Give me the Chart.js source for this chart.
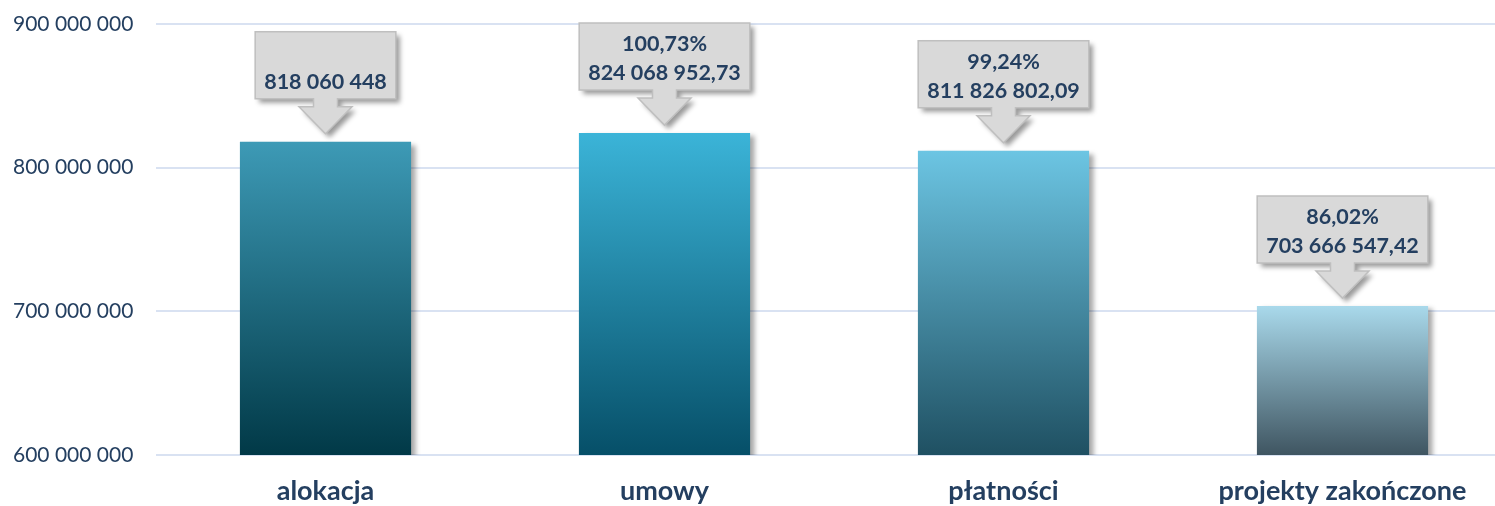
<!DOCTYPE html>
<html>
<head>
<meta charset="utf-8">
<script src="https://cdn.jsdelivr.net/npm/chart.js@4"></script>
<style>
  html, body { margin: 0; padding: 0; background: #fff; overflow: hidden; }
  #wrap { width: 1512px; height: 506px; }
</style>
</head>
<body>
<div id="wrap"><canvas id="barChart" width="1512" height="506"></canvas></div>
<script>
// Chart data
const CATEGORIES = ['alokacja', 'umowy', 'płatności', 'projekty zakończone'];
const VALUES = [818060448, 824068952.73, 811826802.09, 703666547.42];
const PERCENT_LABELS = ['', '100,73%', '99,24%', '86,02%'];
const VALUE_LABELS = ['818 060 448', '824 068 952,73', '811 826 802,09', '703 666 547,42'];

// Gradient colours per bar (top, bottom)
const BAR_TOP = ['#3d9ab6', '#3bb4d8', '#6cc5e3', '#a9d9eb'];
const BAR_BOTTOM = ['#013947', '#064f68', '#1f5062', '#3f5561'];

const TEXT_COLOR = '#243f60';
const FONT = 'Lato, "Open Sans", sans-serif';

function spaced(v) {
    return String(v).replace(/\B(?=(\d{3})+(?!\d))/g, ' ');
}

// Soft shadow behind bars
const barShadow = {
    id: 'barShadow',
    beforeDatasetDraw(chart) {
        const ctx = chart.ctx;
        ctx.save();
        ctx.shadowColor = 'rgba(0,0,0,0.35)';
        ctx.shadowBlur = 5;
        ctx.shadowOffsetX = 5;
        ctx.shadowOffsetY = 3;
    },
    afterDatasetDraw(chart) {
        chart.ctx.restore();
    }
};

// Grey arrow callouts above each bar
const callouts = {
    id: 'callouts',
    afterDatasetsDraw(chart) {
        const ctx = chart.ctx;
        const meta = chart.getDatasetMeta(0);
        ctx.save();
        ctx.font = 'bold 21.5px ' + FONT;
        meta.data.forEach((bar, i) => {
            const cx = bar.x;
            const top = bar.y;
            const textW = Math.max(ctx.measureText(PERCENT_LABELS[i]).width,
                                   ctx.measureText(VALUE_LABELS[i]).width);
            const w = textW + 18;
            const L = cx - w / 2, R = cx + w / 2;
            const T = top - 110, B = top - 43;

            ctx.beginPath();
            ctx.moveTo(L, T);
            ctx.lineTo(R, T);
            ctx.lineTo(R, B);
            ctx.lineTo(cx + 12, B);
            ctx.lineTo(cx + 12, B + 8);
            ctx.lineTo(cx + 26.5, B + 8);
            ctx.lineTo(cx, B + 35);
            ctx.lineTo(cx - 26.5, B + 8);
            ctx.lineTo(cx - 12, B + 8);
            ctx.lineTo(cx - 12, B);
            ctx.lineTo(L, B);
            ctx.closePath();

            ctx.save();
            ctx.shadowColor = 'rgba(0,0,0,0.4)';
            ctx.shadowBlur = 5;
            ctx.shadowOffsetX = 4;
            ctx.shadowOffsetY = 4;
            ctx.fillStyle = '#d9d9d9';
            ctx.fill();
            ctx.restore();
            ctx.lineWidth = 1.5;
            ctx.strokeStyle = '#bfbfbf';
            ctx.stroke();

            ctx.fillStyle = TEXT_COLOR;
            ctx.textAlign = 'center';
            ctx.textBaseline = 'middle';
            ctx.fillText(PERCENT_LABELS[i], cx, T + 21);
            ctx.fillText(VALUE_LABELS[i], cx, T + 50);
        });
        ctx.restore();
    }
};

new Chart(document.getElementById('barChart'), {
    type: 'bar',
    data: {
        labels: CATEGORIES,
        datasets: [{
            data: VALUES,
            backgroundColor: (c) => {
                const chart = c.chart;
                if (!chart.chartArea) return BAR_TOP[c.dataIndex];
                const y = chart.scales.y;
                const g = chart.ctx.createLinearGradient(0, y.getPixelForValue(VALUES[c.dataIndex]), 0, y.getPixelForValue(y.min));
                g.addColorStop(0, BAR_TOP[c.dataIndex]);
                g.addColorStop(1, BAR_BOTTOM[c.dataIndex]);
                return g;
            },
            borderWidth: 0,
            categoryPercentage: 1,
            barPercentage: 0.505
        }]
    },
    options: {
        responsive: false,
        animation: false,
        layout: { padding: { top: 24, right: 0, bottom: 0, left: 13 } },
        plugins: {
            legend: { display: false },
            tooltip: { enabled: false }
        },
        scales: {
            x: {
                grid: { display: false, drawTicks: false },
                border: { display: false },
                ticks: {
                    color: TEXT_COLOR,
                    font: { family: FONT, size: 27, weight: 'bold', lineHeight: 1.2 },
                    padding: 20
                },
                afterFit(scale) { scale.height = 51; }
            },
            y: {
                min: 600000000,
                max: 900000000,
                border: { display: false },
                grid: { color: '#d9e2f2', lineWidth: 2, drawTicks: false },
                ticks: {
                    stepSize: 100000000,
                    color: TEXT_COLOR,
                    font: { family: FONT, size: 21 },
                    padding: 0,
                    crossAlign: 'far',
                    callback: (v) => spaced(v)
                },
                afterFit(scale) { scale.width = 143; }
            }
        }
    },
    plugins: [barShadow, callouts]
});
</script>
</body>
</html>
